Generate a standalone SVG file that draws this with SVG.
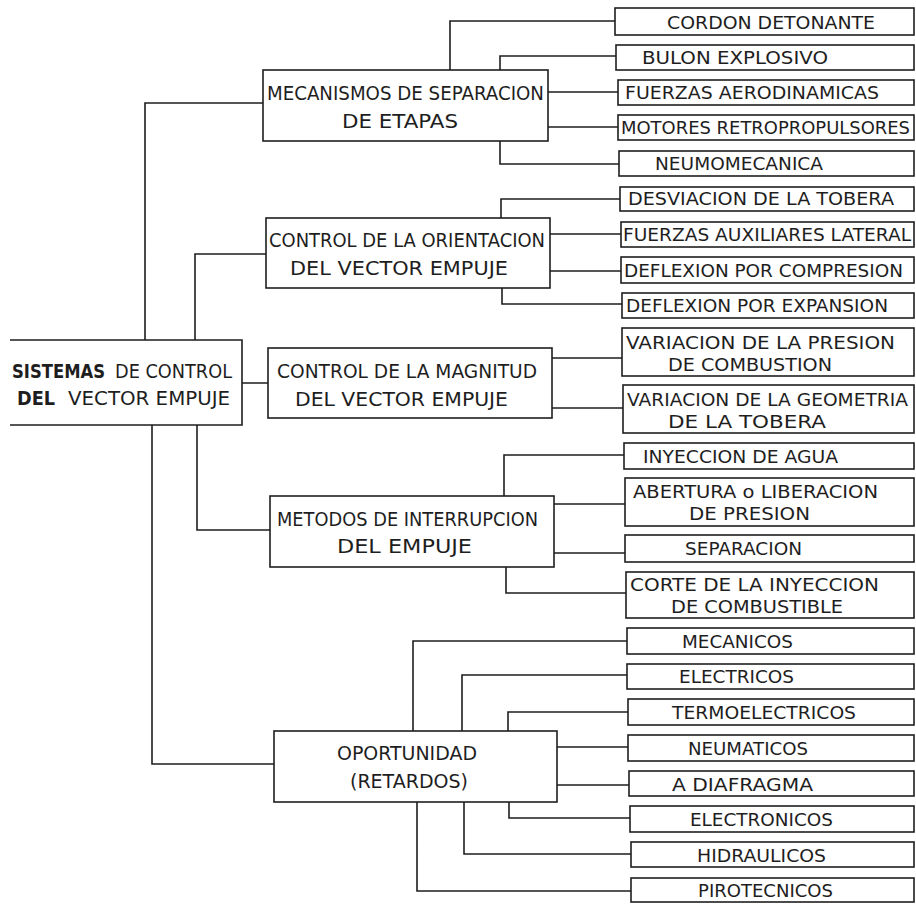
<svg xmlns="http://www.w3.org/2000/svg" width="916" height="904" viewBox="0 0 916 904">
<style>
.b{fill:none;stroke:#1e1e1e;stroke-width:1.6}
.c{fill:none;stroke:#1e1e1e;stroke-width:1.6}
.t{font-family:"DejaVu Sans","Liberation Sans",sans-serif;font-size:20px;fill:#1e1e1e}
.l{font-family:"DejaVu Sans","Liberation Sans",sans-serif;font-size:18px;fill:#1e1e1e}
.l2{font-family:"DejaVu Sans","Liberation Sans",sans-serif;font-size:17px;fill:#1e1e1e}
.bd{font-weight:bold}
</style>
<rect width="916" height="904" fill="#fff"/>
<g id="connectors">
<path class="c" d="M145,340V103H263M195,340V254H266M242,383H268M197,425V530H270M152,425V764H274"/>
<path class="c" d="M450,70V21H615M500,70V56H616M548,92H618M548,127H618M500,141V164H619"/>
<path class="c" d="M501,218V199H620M550,234H621M550,271H621M502,288V304H622"/>
<path class="c" d="M552,358H622M552,408H623"/>
<path class="c" d="M504,496V455H624M554,504H625M554,553H625M506,567V593H626"/>
<path class="c" d="M413,731V641H627M462,731V675H627M508,731V712H628M557,747H628M557,785H629M509,802V818H630M464,802V854H631M417,802V891H631"/>
</g>
<g id="root">
<path class="b" d="M10,340H242V425H10"/>
<text class="t bd" x="12" y="378" textLength="93" lengthAdjust="spacingAndGlyphs">SISTEMAS</text>
<text class="t" x="115" y="378" textLength="117" lengthAdjust="spacingAndGlyphs">DE CONTROL</text>
<text class="t bd" x="17" y="405" textLength="38" lengthAdjust="spacingAndGlyphs">DEL</text>
<text class="t" x="68" y="405" textLength="162" lengthAdjust="spacingAndGlyphs">VECTOR EMPUJE</text>
</g>
<g id="mecanismos">
<rect class="b" x="263" y="70" width="285" height="71"/>
<text class="t" x="267" y="100" textLength="277" lengthAdjust="spacingAndGlyphs">MECANISMOS DE SEPARACION</text>
<text class="t" x="342" y="128" textLength="116" lengthAdjust="spacingAndGlyphs">DE ETAPAS</text>
</g>
<g id="orientacion">
<rect class="b" x="266" y="218" width="284" height="70"/>
<text class="t" x="269" y="247" textLength="276" lengthAdjust="spacingAndGlyphs">CONTROL DE LA ORIENTACION</text>
<text class="t" x="290" y="275" textLength="218" lengthAdjust="spacingAndGlyphs">DEL VECTOR EMPUJE</text>
</g>
<g id="magnitud">
<rect class="b" x="268" y="348" width="284" height="70"/>
<text class="t" x="277" y="378" textLength="260" lengthAdjust="spacingAndGlyphs">CONTROL DE LA MAGNITUD</text>
<text class="t" x="295" y="406" textLength="213" lengthAdjust="spacingAndGlyphs">DEL VECTOR EMPUJE</text>
</g>
<g id="interrupcion">
<rect class="b" x="270" y="496" width="284" height="71"/>
<text class="t" x="277" y="526" textLength="261" lengthAdjust="spacingAndGlyphs">METODOS DE INTERRUPCION</text>
<text class="t" x="337" y="553" textLength="135" lengthAdjust="spacingAndGlyphs">DEL EMPUJE</text>
</g>
<g id="oportunidad">
<rect class="b" x="274" y="731" width="283" height="71"/>
<text class="t" x="337" y="760" textLength="140" lengthAdjust="spacingAndGlyphs">OPORTUNIDAD</text>
<text class="t" x="350" y="788" textLength="118" lengthAdjust="spacingAndGlyphs">(RETARDOS)</text>
</g>
<g id="l1"><rect class="b" x="615" y="8" width="299" height="27"/><text class="l" x="667" y="29" textLength="208" lengthAdjust="spacingAndGlyphs">CORDON DETONANTE</text></g>
<g id="l2"><rect class="b" x="616" y="45" width="298" height="25"/><text class="l" x="642" y="64" textLength="186" lengthAdjust="spacingAndGlyphs">BULON EXPLOSIVO</text></g>
<g id="l3"><rect class="b" x="618" y="80" width="296" height="25"/><text class="l" x="625" y="99" textLength="254" lengthAdjust="spacingAndGlyphs">FUERZAS AERODINAMICAS</text></g>
<g id="l4"><rect class="b" x="618" y="115" width="296" height="25"/><text class="l" x="621" y="134" textLength="289" lengthAdjust="spacingAndGlyphs">MOTORES RETROPROPULSORES</text></g>
<g id="l5"><rect class="b" x="619" y="151" width="295" height="25"/><text class="l" x="655" y="170" textLength="168" lengthAdjust="spacingAndGlyphs">NEUMOMECANICA</text></g>
<g id="l6"><rect class="b" x="620" y="187" width="294" height="24"/><text class="l" x="628" y="205" textLength="266" lengthAdjust="spacingAndGlyphs">DESVIACION DE LA TOBERA</text></g>
<g id="l7"><rect class="b" x="621" y="222" width="293" height="25"/><text class="l" x="623" y="241" textLength="288" lengthAdjust="spacingAndGlyphs">FUERZAS AUXILIARES LATERAL</text></g>
<g id="l8"><rect class="b" x="621" y="257" width="293" height="26"/><text class="l" x="624" y="277" textLength="279" lengthAdjust="spacingAndGlyphs">DEFLEXION POR COMPRESION</text></g>
<g id="l9"><rect class="b" x="622" y="293" width="292" height="25"/><text class="l" x="626" y="312" textLength="262" lengthAdjust="spacingAndGlyphs">DEFLEXION POR EXPANSION</text></g>
<g id="l10"><rect class="b" x="622" y="328" width="292" height="48"/><text class="l2" x="626" y="349" textLength="269" lengthAdjust="spacingAndGlyphs">VARIACION DE LA PRESION</text><text class="l2" x="668" y="371" textLength="164" lengthAdjust="spacingAndGlyphs">DE COMBUSTION</text></g>
<g id="l11"><rect class="b" x="623" y="385" width="291" height="48"/><text class="l2" x="627" y="406" textLength="281" lengthAdjust="spacingAndGlyphs">VARIACION DE LA GEOMETRIA</text><text class="l2" x="668" y="428" textLength="158" lengthAdjust="spacingAndGlyphs">DE LA TOBERA</text></g>
<g id="l12"><rect class="b" x="624" y="443" width="290" height="26"/><text class="l" x="643" y="463" textLength="195" lengthAdjust="spacingAndGlyphs">INYECCION DE AGUA</text></g>
<g id="l13"><rect class="b" x="625" y="478" width="289" height="48"/><text class="l2" x="633" y="498" textLength="245" lengthAdjust="spacingAndGlyphs">ABERTURA o LIBERACION</text><text class="l2" x="689" y="520" textLength="121" lengthAdjust="spacingAndGlyphs">DE PRESION</text></g>
<g id="l14"><rect class="b" x="625" y="535" width="289" height="27"/><text class="l" x="685" y="555" textLength="117" lengthAdjust="spacingAndGlyphs">SEPARACION</text></g>
<g id="l15"><rect class="b" x="626" y="572" width="288" height="46"/><text class="l2" x="630" y="591" textLength="249" lengthAdjust="spacingAndGlyphs">CORTE DE LA INYECCION</text><text class="l2" x="671" y="613" textLength="172" lengthAdjust="spacingAndGlyphs">DE COMBUSTIBLE</text></g>
<g id="l16"><rect class="b" x="627" y="628" width="287" height="26"/><text class="l" x="682" y="648" textLength="111" lengthAdjust="spacingAndGlyphs">MECANICOS</text></g>
<g id="l17"><rect class="b" x="627" y="664" width="287" height="25"/><text class="l" x="679" y="683" textLength="115" lengthAdjust="spacingAndGlyphs">ELECTRICOS</text></g>
<g id="l18"><rect class="b" x="628" y="699" width="286" height="26"/><text class="l" x="672" y="719" textLength="184" lengthAdjust="spacingAndGlyphs">TERMOELECTRICOS</text></g>
<g id="l19"><rect class="b" x="628" y="735" width="286" height="26"/><text class="l" x="688" y="755" textLength="120" lengthAdjust="spacingAndGlyphs">NEUMATICOS</text></g>
<g id="l20"><rect class="b" x="629" y="771" width="285" height="25"/><text class="l" x="672" y="791" textLength="141" lengthAdjust="spacingAndGlyphs">A DIAFRAGMA</text></g>
<g id="l21"><rect class="b" x="630" y="806" width="284" height="26"/><text class="l" x="690" y="826" textLength="143" lengthAdjust="spacingAndGlyphs">ELECTRONICOS</text></g>
<g id="l22"><rect class="b" x="631" y="842" width="283" height="25"/><text class="l" x="697" y="862" textLength="129" lengthAdjust="spacingAndGlyphs">HIDRAULICOS</text></g>
<g id="l23"><rect class="b" x="631" y="878" width="283" height="24"/><text class="l" x="698" y="897" textLength="135" lengthAdjust="spacingAndGlyphs">PIROTECNICOS</text></g>
</svg>
